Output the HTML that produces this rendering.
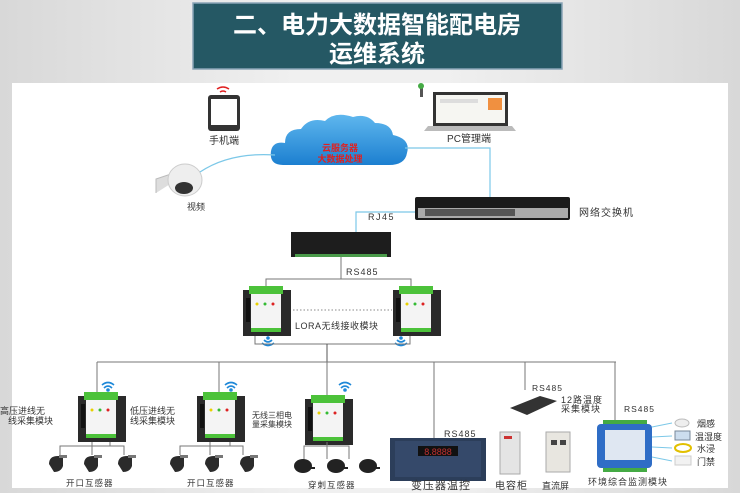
<!DOCTYPE html>
<html><head><meta charset="utf-8"><style>
html,body{margin:0;padding:0;}
body{width:740px;height:493px;overflow:hidden;background:linear-gradient(90deg,#d8d8d8,#f0f0f0 40%,#f0f0f0 60%,#d8d8d8);font-family:"Liberation Sans","Noto Sans CJK SC",sans-serif;}
svg{display:block}
text{font-family:"Liberation Sans","Noto Sans CJK SC",sans-serif;}
</style></head><body>
<svg width="740" height="493" viewBox="0 0 740 493" xmlns="http://www.w3.org/2000/svg">
<defs>
<linearGradient id="cl" x1="0" y1="0" x2="0" y2="1"><stop offset="0" stop-color="#5fb7ee"/><stop offset="1" stop-color="#1c7fd0"/></linearGradient>
<g id="mod">
 <rect x="0" y="6" width="48" height="46" fill="#2a2a2a"/>
 <rect x="6" y="2" width="34" height="8" fill="#4cc23a"/>
 <rect x="8" y="10" width="30" height="38" fill="#f4f4f4"/>
 <rect x="8" y="44" width="30" height="4" fill="#4cc23a"/>
 <rect x="3" y="14" width="4" height="24" fill="#111"/>
 <circle cx="14" cy="20" r="1.5" fill="#e8d000"/><circle cx="22" cy="20" r="1.5" fill="#3b3"/><circle cx="30" cy="20" r="1.5" fill="#d22"/>
</g>
<g id="wifi" fill="none" stroke="#1e88d8" stroke-width="1.6">
 <path d="M-6,-3 Q0,-8 6,-3"/><path d="M-4,0 Q0,-4 4,0"/><circle cx="0" cy="2" r="1" fill="#1e88d8"/>
</g>
<g id="ct"><path d="M0,6 q0,-8 9,-8 l5,0 l0,10 q-2,6 -9,6 z" fill="#2b2b2b"/><rect x="10" y="-3" width="8" height="3" fill="#777"/></g>
<g id="ct2"><ellipse cx="8" cy="6" rx="9" ry="7" fill="#222"/><rect x="14" y="7" width="6" height="2" fill="#222"/></g>
</defs>

<!-- title -->
<rect x="193" y="3" width="369" height="66" fill="#255864" stroke="#8aa4b6" stroke-width="1.5"/>
<text x="377" y="33" text-anchor="middle" font-size="24" font-weight="bold" fill="#fff">二、电力大数据智能配电房</text>
<text x="377" y="62" text-anchor="middle" font-size="24" font-weight="bold" fill="#fff">运维系统</text>

<!-- white panel -->
<rect x="12" y="83" width="716" height="405" fill="#fff"/>

<!-- phone -->
<path d="M229,89 q-6,-4 -12,0" fill="none" stroke="#e02020" stroke-width="1.5"/><path d="M226,92 q-3,-2 -6,0" fill="none" stroke="#e02020" stroke-width="1.5"/>
<rect x="208" y="95" width="32" height="36" rx="3" fill="#333"/>
<rect x="211" y="99" width="26" height="26" fill="#fff"/>
<text x="224" y="144" text-anchor="middle" font-size="10" fill="#333">手机端</text>

<!-- cloud -->
<path d="M283,165 q-14,0 -12,-14 q2,-10 14,-8 q0,-14 16,-14 q8,-12 24,-8 q10,-10 28,-4 q14,-4 22,6 q16,0 18,12 q18,4 14,18 q-2,12 -18,12 z" fill="url(#cl)"/>
<text x="340" y="151" text-anchor="middle" font-size="9" fill="#e02020" font-weight="bold">云服务器</text>
<text x="340" y="162" text-anchor="middle" font-size="9" fill="#e02020" font-weight="bold">大数据处理</text>

<!-- camera -->
<path d="M156,193 l0,-14 l18,-6 l4,6" fill="#ddd" stroke="#bbb"/>
<ellipse cx="185" cy="180" rx="17" ry="16" fill="#eee" stroke="#ccc"/>
<ellipse cx="184" cy="188" rx="9" ry="6" fill="#333"/>
<text x="196" y="210" text-anchor="middle" font-size="9" fill="#333">视频</text>
<path d="M200,172 q30,-20 75,-17" fill="none" stroke="#7cc8e8" stroke-width="1.2"/>

<!-- PC -->
<rect x="420" y="85" width="3" height="12" fill="#555"/><circle cx="421" cy="86" r="3" fill="#4a4"/>
<rect x="433" y="92" width="75" height="34" fill="#333"/>
<rect x="436" y="95" width="69" height="28" fill="#f6f6f2"/>
<rect x="440" y="99" width="38" height="4" fill="#ddd"/>
<rect x="488" y="98" width="14" height="12" fill="#f09040"/>
<path d="M428,126 l84,0 l4,5 l-92,0 z" fill="#bbb"/>
<text x="469" y="142" text-anchor="middle" font-size="10" fill="#333">PC管理端</text>
<path d="M405,148 L490,148 L490,198" fill="none" stroke="#7cc8e8" stroke-width="1.2"/>

<!-- switch -->
<rect x="415" y="197" width="155" height="23" rx="2" fill="#1b1b1b"/>
<rect x="418" y="208" width="150" height="10" fill="#aaa"/>
<rect x="425" y="209" width="90" height="7" fill="#555"/>
<text x="579" y="216" font-size="10" fill="#333" letter-spacing="1">网络交换机</text>
<path d="M415,212 L356,212 L356,232" fill="none" stroke="#7cc8e8" stroke-width="1.2"/>
<text x="368" y="220" font-size="9" fill="#333" letter-spacing="1.5">RJ45</text>

<!-- controller -->
<rect x="291" y="232" width="100" height="25" fill="#1d1d1d"/>
<rect x="295" y="254" width="92" height="3" fill="#4a9a4a"/>
<line x1="341" y1="257" x2="341" y2="279" stroke="#777"/>
<text x="346" y="275" font-size="9" fill="#333" letter-spacing="1">RS485</text>
<path d="M266,287 L266,279 L411,279 L411,287" fill="none" stroke="#777"/>

<!-- LORA modules -->
<use href="#mod" x="243" y="284"/>
<use href="#mod" x="393" y="284"/>
<line x1="293" y1="310" x2="392" y2="310" stroke="#888" stroke-dasharray="1.5,2"/>
<text x="295" y="329" font-size="9" fill="#333" letter-spacing="0.5">LORA无线接收模块</text>
<g transform="translate(268,340) scale(1,-1)"><use href="#wifi"/></g>
<g transform="translate(401,340) scale(1,-1)"><use href="#wifi"/></g>
<path d="M255,336 L255,344 L410,344 L410,336" fill="none" stroke="#777"/>
<line x1="327" y1="344" x2="327" y2="362" stroke="#555"/>

<!-- bus -->
<g stroke="#777">
<line x1="97" y1="362" x2="616" y2="362"/>
<line x1="97" y1="362" x2="97" y2="392"/>
<line x1="219" y1="362" x2="219" y2="392"/>
<line x1="327" y1="362" x2="327" y2="395"/>
<line x1="434" y1="362" x2="434" y2="438"/>
<line x1="525" y1="362" x2="525" y2="390"/>
<line x1="615" y1="362" x2="615" y2="420"/>
</g>

<!-- collection modules -->
<use href="#wifi" x="108" y="388"/>
<use href="#mod" x="78" y="390"/>
<text x="0" y="414" font-size="9" fill="#333">高压进线无</text>
<text x="8" y="424" font-size="9" fill="#333">线采集模块</text>
<use href="#wifi" x="231" y="388"/>
<use href="#mod" x="197" y="390"/>
<text x="130" y="414" font-size="9" fill="#333">低压进线无</text>
<text x="130" y="424" font-size="9" fill="#333">线采集模块</text>
<use href="#wifi" x="345" y="388"/>
<use href="#mod" x="305" y="393"/>
<text x="252" y="418" font-size="8" fill="#333">无线三相电</text>
<text x="252" y="427" font-size="8" fill="#333">量采集模块</text>

<!-- CTs -->
<g fill="none" stroke="#777">
<path d="M60,455 L60,446 L124,446 L124,455 M92,442 L92,455 M110,442 L110,446"/>
<path d="M180,455 L180,446 L243,446 L243,455 M210,442 L210,455 M230,442 L230,446"/>
<path d="M304,459 L304,446 L349,446 L349,459 M327,442 L327,459"/>
</g>
<use href="#ct" x="49" y="458"/><use href="#ct" x="84" y="458"/><use href="#ct" x="118" y="458"/>
<use href="#ct" x="170" y="458"/><use href="#ct" x="205" y="458"/><use href="#ct" x="240" y="458"/>
<use href="#ct2" x="295" y="460"/><use href="#ct2" x="328" y="460"/><use href="#ct2" x="360" y="460"/>
<text x="66" y="486" font-size="8.5" fill="#333" letter-spacing="1">开口互感器</text>
<text x="187" y="486" font-size="8.5" fill="#333" letter-spacing="1">开口互感器</text>
<text x="308" y="488" font-size="8.5" fill="#333" letter-spacing="1">穿刺互感器</text>

<!-- transformer temp -->
<text x="444" y="437" font-size="9" fill="#333" letter-spacing="1">RS485</text>
<rect x="390" y="438" width="96" height="43" fill="#2c3e5a"/>
<rect x="395" y="441" width="86" height="36" fill="#35496a"/>
<rect x="418" y="446" width="40" height="10" fill="#111"/>
<text x="438" y="455" text-anchor="middle" font-size="9" fill="#c03030">8.8888</text>
<text x="411" y="489" font-size="11" fill="#333" letter-spacing="1">变压器温控</text>

<!-- cabinets -->
<rect x="500" y="432" width="20" height="42" fill="#e4e4e4" stroke="#aaa"/>
<rect x="504" y="436" width="8" height="3" fill="#c33"/>
<rect x="546" y="432" width="24" height="40" fill="#e8e6e0" stroke="#aaa"/>
<rect x="551" y="440" width="6" height="5" fill="#444"/><rect x="560" y="440" width="6" height="5" fill="#444"/>
<text x="495" y="489" font-size="10" fill="#333" letter-spacing="1">电容柜</text>
<text x="542" y="489" font-size="9" fill="#333">直流屏</text>

<!-- 12路 -->
<text x="532" y="391" font-size="8.5" fill="#333" letter-spacing="1">RS485</text>
<path d="M510,408 l30,-12 l17,5 l-30,14 z" fill="#333"/>
<text x="561" y="403" font-size="9" fill="#333" letter-spacing="1">12路温度</text>
<text x="561" y="412" font-size="9" fill="#333" letter-spacing="1">采集模块</text>

<!-- env module -->
<text x="624" y="412" font-size="8.5" fill="#333" letter-spacing="1">RS485</text>
<rect x="603" y="420" width="44" height="4" fill="#4a4"/>
<rect x="597" y="424" width="55" height="44" rx="4" fill="#2f6dc6"/>
<rect x="605" y="430" width="40" height="30" fill="#dfe7f2"/>
<rect x="603" y="468" width="44" height="4" fill="#4a4"/>
<g stroke="#7cc8e8"><line x1="652" y1="427" x2="672" y2="423"/><line x1="652" y1="437" x2="672" y2="436"/><line x1="652" y1="447" x2="672" y2="448"/><line x1="652" y1="457" x2="672" y2="461"/></g>
<ellipse cx="682" cy="423" rx="7" ry="4" fill="#eee" stroke="#bbb"/>
<rect x="675" y="431" width="15" height="9" fill="#cde" stroke="#789"/>
<ellipse cx="683" cy="448" rx="8" ry="4" fill="none" stroke="#e2c000" stroke-width="2"/>
<rect x="675" y="456" width="16" height="9" fill="#f2f2f2" stroke="#ccc"/>
<g font-size="9" fill="#333"><text x="697" y="427">烟感</text><text x="695" y="440">温湿度</text><text x="697" y="452">水浸</text><text x="697" y="465">门禁</text></g>
<text x="588" y="485" font-size="9" fill="#333" letter-spacing="1">环境综合监测模块</text>
</svg>
</body></html>
